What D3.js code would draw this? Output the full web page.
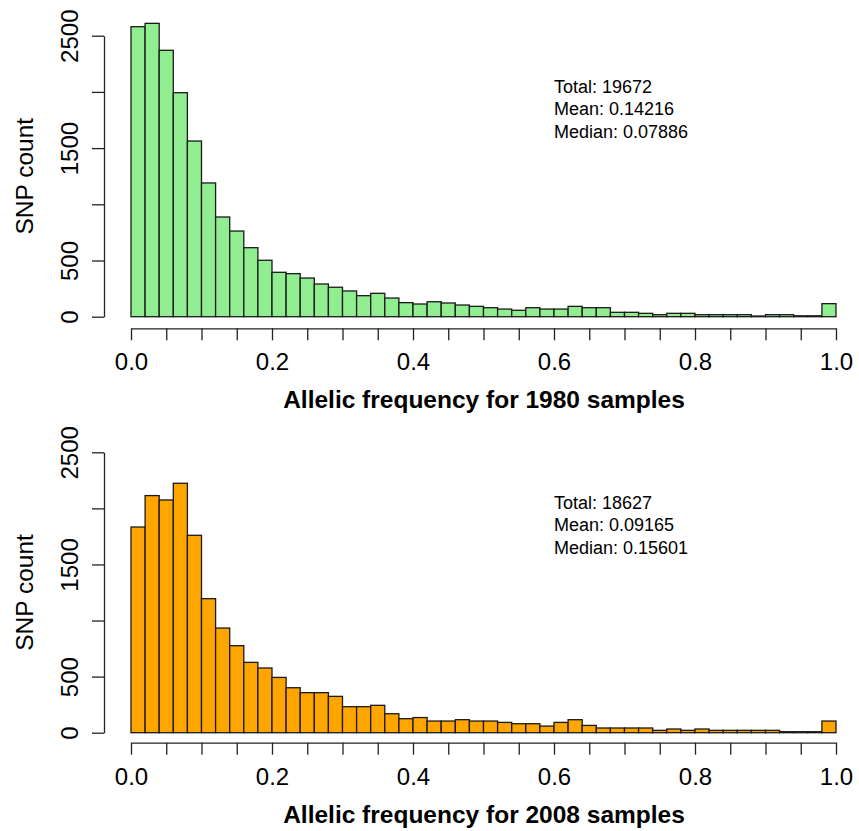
<!DOCTYPE html>
<html>
<head>
<meta charset="utf-8">
<script src="https://cdn.jsdelivr.net/npm/d3@7"></script>
<style>
  body { margin: 0; background: #fff; }
  svg text { font-family: "Liberation Sans", Arial, sans-serif; fill: #000; }
</style>
</head>
<body>
<div id="chart"></div>
<script>
// bin counts, 50 bins of width 0.02 from 0 to 1
const counts1980 = [2580, 2610, 2370, 1993, 1563, 1190, 887, 762, 614, 502,
	395, 383, 344, 291, 262, 229, 187, 208, 166, 125,
	113, 133, 122, 104, 92, 80, 68, 57, 80, 68,
	68, 92, 80, 80, 39, 39, 30, 18, 30, 30,
	18, 18, 18, 18, 6, 18, 18, 8, 8, 116];
const counts2008 = [1834, 2114, 2075, 2224, 1760, 1195, 933, 776, 627, 577,
	493, 401, 357, 357, 324, 232, 232, 244, 169, 125,
	135, 104, 104, 116, 104, 104, 92, 80, 80, 59,
	92, 116, 65, 42, 42, 42, 42, 21, 33, 21,
	33, 21, 21, 21, 21, 21, 9, 9, 9, 104];
const binEdges = d3.range(0, 51).map(i => i / 50);
const xTicks = d3.range(0, 21).map(i => i / 20);
const xTickLabels = [0, 0.2, 0.4, 0.6, 0.8, 1.0];
const yTicks = [0, 500, 1000, 1500, 2000, 2500];
const yTickLabels = [0, 500, 1500, 2500];
const stats1980 = ['Total: 19672', 'Mean: 0.14216', 'Median: 0.07886'];
const stats2008 = ['Total: 18627', 'Mean: 0.09165', 'Median: 0.15601'];

const W = 859, H = 831;
let svg = d3.select('#chart').append('svg')
	.attr('width', W)
	.attr('height', H);

let x = d3.scaleLinear().domain([0, 1]).range([131, 836]);

//one panel per histogram
let panels = [
	{counts: counts1980, stats: stats1980, fill: '#90EE90', label: 'Allelic frequency for 1980 samples',
		yTop: 35.7, yZero: 316.7, axisY: 328.3},
	{counts: counts2008, stats: stats2008, fill: '#FFA500', label: 'Allelic frequency for 2008 samples',
		yTop: 452.3, yZero: 732.7, axisY: 742.7}
];

panels.forEach(p => {
	let y = d3.scaleLinear().domain([0, 2500]).range([p.yZero, p.yTop]);
	let g = svg.append('g');

	let bins = p.counts.map((c, i) => ({x0: binEdges[i], x1: binEdges[i + 1], n: c}));

	g.selectAll('rect.bar')
		.data(bins)
		.join('rect')
		.classed('bar', true)
		.attr('x', d => x(d.x0))
		.attr('width', d => x(d.x1) - x(d.x0))
		.attr('y', d => y(d.n))
		.attr('height', d => y(0) - y(d.n))
		.style('fill', p.fill)
		.style('stroke', '#1a1a1a')
		.style('stroke-width', 1.3);

	//x axis
	let xAxis = g.append('g')
		.attr('transform', 'translate(0,' + p.axisY + ')')
		.call(d3.axisBottom(x)
			.tickValues(xTicks)
			.tickSize(12)
			.tickSizeOuter(0)
			.tickFormat(d => xTickLabels.some(v => Math.abs(v - d) < 1e-9) ? d3.format('.1f')(d) : ''));
	xAxis.selectAll('path, line').style('stroke', '#222').style('stroke-width', 1.3);
	xAxis.selectAll('text')
		.attr('y', 0)
		.attr('dy', 0)
		.attr('transform', 'translate(0,42)')
		.style('font-size', '24px')
		.style('fill', '#000');

	//y axis
	let yAxis = g.append('g')
		.attr('transform', 'translate(104,0)')
		.call(d3.axisLeft(y)
			.tickValues(yTicks)
			.tickSize(12)
			.tickSizeOuter(0)
			.tickFormat(d => yTickLabels.includes(d) ? d : ''));
	yAxis.selectAll('path, line').style('stroke', '#222').style('stroke-width', 1.3);
	yAxis.selectAll('text')
		.attr('x', 0)
		.attr('dy', 0)
		.attr('transform', 'translate(-26,0) rotate(-90)')
		.style('text-anchor', 'middle')
		.style('font-size', '24px')
		.style('fill', '#000');

	//axis titles
	g.append('text')
		.attr('transform', 'translate(33,' + ((p.yZero + p.yTop) / 2) + ') rotate(-90)')
		.style('text-anchor', 'middle')
		.style('font-size', '24.5px')
		.text('SNP count');

	g.append('text')
		.attr('x', 484)
		.attr('y', p.axisY + 80)
		.style('text-anchor', 'middle')
		.style('font-size', '24.5px')
		.style('font-weight', 'bold')
		.text(p.label);

	//summary text
	g.selectAll('text.stat')
		.data(p.stats)
		.join('text')
		.classed('stat', true)
		.attr('x', 554)
		.attr('y', (d, i) => p.yZero - 224 + i * 22.5)
		.style('font-size', '18px')
		.text(d => d);
});
</script>
</body>
</html>
